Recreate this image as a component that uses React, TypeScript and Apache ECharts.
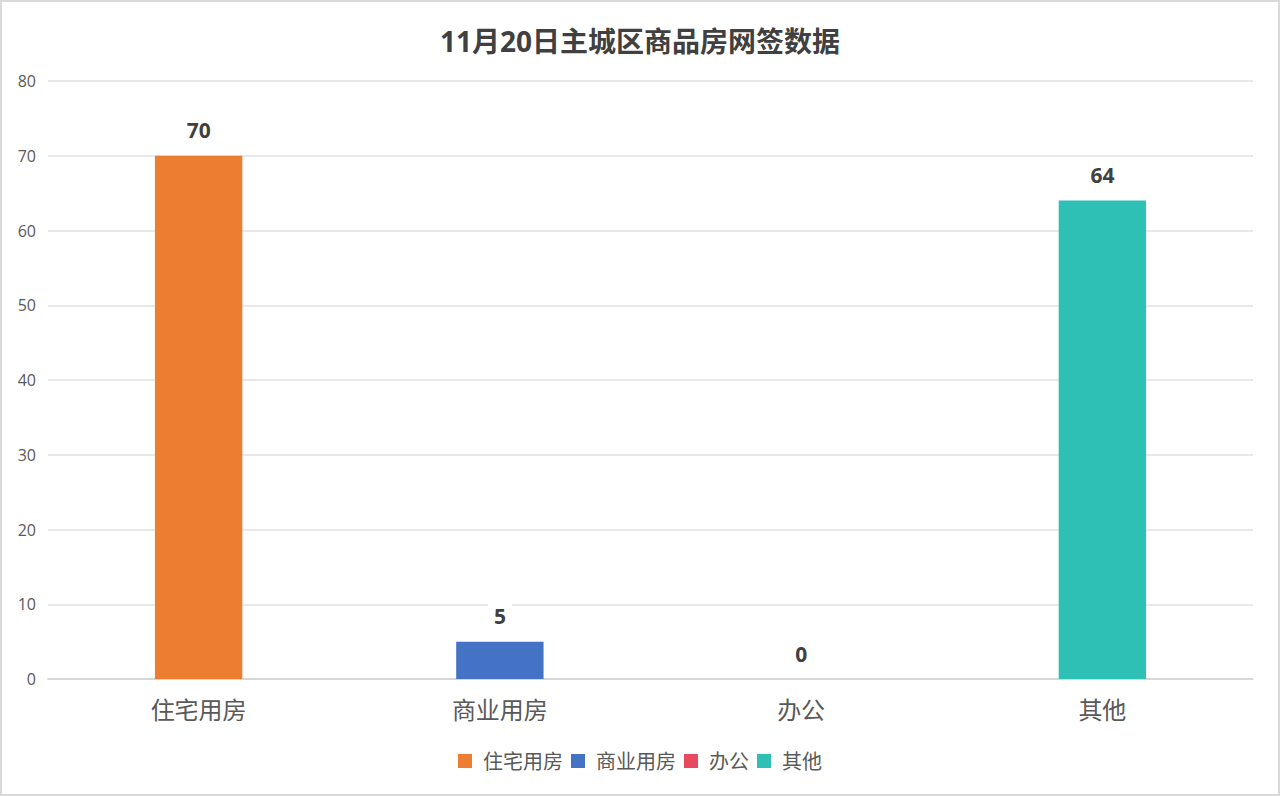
import { useEffect, useRef } from 'react'
import * as echarts from 'echarts'

const categories = ['住宅用房', '商业用房', '办公', '其他']
const values = [70, 5, 0, 64]
const colors = ['#ED7D31', '#4472C4', '#E64A5C', '#2EC0B4']
const yTicks = { min: 0, max: 80, interval: 10 }

const FONT = '"Open Sans", "Noto Sans CJK SC", sans-serif'

export default function App() {
  const chartRef = useRef<HTMLDivElement>(null)

  useEffect(() => {
    if (!chartRef.current) return
    const chart = echarts.init(chartRef.current, undefined, { renderer: 'svg' })

    // one series per category so each gets its own legend entry; stacked so the bar stays centred
    const series = categories.map((name, i) => ({
      name,
      type: 'bar' as const,
      stack: 'all',
      barWidth: '29%',
      itemStyle: { color: colors[i] },
      label: {
        show: true,
        position: 'top' as const,
        distance: 13,
        color: '#404040',
        fontSize: 21,
        fontWeight: 'bold' as const,
        fontFamily: FONT,
        backgroundColor: '#fff',
        padding: [2, 6],
      },
      data: categories.map((_, j) => (j === i ? values[i] : '-')),
    }))

    chart.setOption({
      animation: false,
      backgroundColor: '#fff',
      title: {
        text: '11月20日主城区商品房网签数据',
        left: 'center',
        top: 20,
        textStyle: {
          fontSize: 28,
          fontWeight: 'bold',
          color: '#404040',
          fontFamily: FONT,
        },
      },
      legend: {
        bottom: 18,
        left: 'center',
        itemWidth: 14,
        itemHeight: 14,
        itemGap: 8,
        icon: 'rect',
        textStyle: { fontSize: 20, color: '#595959', fontFamily: FONT, padding: [0, 0, 0, 6] },
        data: categories,
      },
      grid: { left: 46, right: 25, top: 79, bottom: 115 },
      xAxis: {
        type: 'category',
        data: categories,
        axisLine: { lineStyle: { color: '#d0d0d0', width: 1.5 } },
        axisTick: { show: false },
        axisLabel: { fontSize: 24, color: '#595959', fontFamily: FONT, margin: 18 },
      },
      yAxis: {
        type: 'value',
        min: yTicks.min,
        max: yTicks.max,
        interval: yTicks.interval,
        axisLine: { show: false },
        axisTick: { show: false },
        axisLabel: { fontSize: 16, color: '#595959', fontFamily: FONT, margin: 12 },
        splitLine: { lineStyle: { color: '#e0e0e0', width: 1.5 } },
      },
      series,
    })

    return () => {
      chart.dispose()
    }
  }, [])

  return (
    <div
      ref={chartRef}
      style={{
        position: 'absolute',
        left: 0,
        top: 0,
        width: 1280,
        height: 796,
        boxSizing: 'border-box',
        border: '2px solid #d9d9d9',
      }}
    />
  )
}
